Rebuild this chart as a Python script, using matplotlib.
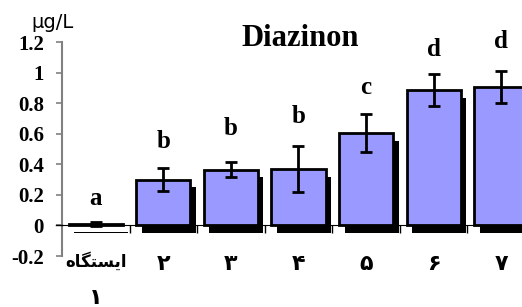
import numpy as np
import matplotlib.pyplot as plt
import matplotlib.patheffects as pe
from matplotlib.ticker import FixedLocator

# station labels (persian), first one is "ایستگاه ۱" on two lines
# written with arabic presentation forms since matplotlib does no shaping
stations = ['\uFEE9\uFE8E\uFB95\uFE98\uFEB4\uFBFE\uFE8D\n\u06F1',
	'\u06F2', '\u06F3', '\u06F4', '\u06F5', '\u06F6', '\u06F7']
means = [0.01, 0.30, 0.365, 0.37, 0.605, 0.885, 0.905]
errs = [0.012, 0.075, 0.05, 0.15, 0.125, 0.105, 0.107]
groups = ['a', 'b', 'b', 'b', 'c', 'd', 'd']
letter_pad = [17, 19, 24, 21, 19, 18, 21]

fig = plt.figure(figsize=(5.22, 3.07), dpi=100)
# axes runs off the right edge like in the original
ax = fig.add_axes([0.1188, 0.1661, 0.906, 0.697])

x = np.arange(len(means))
shadow = [pe.SimplePatchShadow(offset=(4, -5.5), shadow_rgbFace='black', alpha=1.0), pe.Normal()]
bars = ax.bar(x, means, width=0.8, color='#9999FF', edgecolor='black', linewidth=2, zorder=2)
for b in bars:
	b.set_path_effects(shadow)
ax.errorbar(x, means, yerr=errs, fmt='none', ecolor='black', elinewidth=2,
	capsize=4.5, capthick=2, zorder=3)

# significance letters above error bars
for xi, m, e, g, p in zip(x, means, errs, groups, letter_pad):
	ax.annotate(g, (xi, m + e), xytext=(0, p), textcoords='offset points',
		ha='center', va='center', fontsize=18, fontweight='bold',
		family='Liberation Serif')

ax.set_xlim(-0.5, len(means) - 0.5)
ax.set_ylim(-0.2, 1.2)
ax.set_yticks(np.arange(-0.2, 1.21, 0.2))
ax.set_yticklabels(['-0.2', '0', '0.2', '0.4', '0.6', '0.8', '1', '1.2'],
	fontsize=15, fontweight='bold', family='Liberation Serif')

ax.spines['top'].set_visible(False)
ax.spines['right'].set_visible(False)
ax.spines['left'].set_color('#808080')
ax.spines['left'].set_linewidth(1.5)
ax.spines['bottom'].set_position(('data', 0))
ax.spines['bottom'].set_color('black')
ax.spines['bottom'].set_zorder(4)
ax.tick_params(axis='y', colors='#808080', length=4, width=1.2, labelcolor='black', pad=9)
# zero line pokes out a little left of the y axis
ax.axhline(0, xmin=-0.012, xmax=0, color='black', lw=1, clip_on=False, zorder=4)

# category labels sit low, under the -0.2 line
ax.set_xticks(x)
ax.set_xticklabels([])
ax.tick_params(axis='x', which='major', length=0)
ax.xaxis.set_minor_locator(FixedLocator(np.arange(0.5, len(means), 1.0)))
ax.tick_params(axis='x', which='minor', length=6, width=1, color='black', direction='out')
for xi, lab in zip(x, stations):
	lines = lab.split('\n')
	if len(lines) == 1:
		ax.annotate(lines[0], (xi, 0), xycoords=('data', 'axes fraction'),
			xytext=(0, -6), textcoords='offset points', ha='center', va='center',
			fontsize=16, fontweight='bold', family='DejaVu Sans')
	else:
		ax.annotate(lines[0], (xi, 0), xycoords=('data', 'axes fraction'),
			xytext=(0, -4), textcoords='offset points', ha='center', va='center',
			fontsize=12, fontweight='bold', family='DejaVu Sans')
		ax.annotate(lines[1], (xi, 0), xycoords=('data', 'axes fraction'),
			xytext=(0, -30.5), textcoords='offset points', ha='center', va='center',
			fontsize=16, fontweight='bold', family='DejaVu Sans')

fig.text(0.575, 0.876, 'Diazinon', ha='center', va='center', fontsize=22,
	fontweight='bold', family='Liberation Serif')
fig.text(0.061, 0.928, '\u03bcg/L', ha='left', va='center', fontsize=14, family='DejaVu Sans')

fig.savefig('out.png', dpi=100)
